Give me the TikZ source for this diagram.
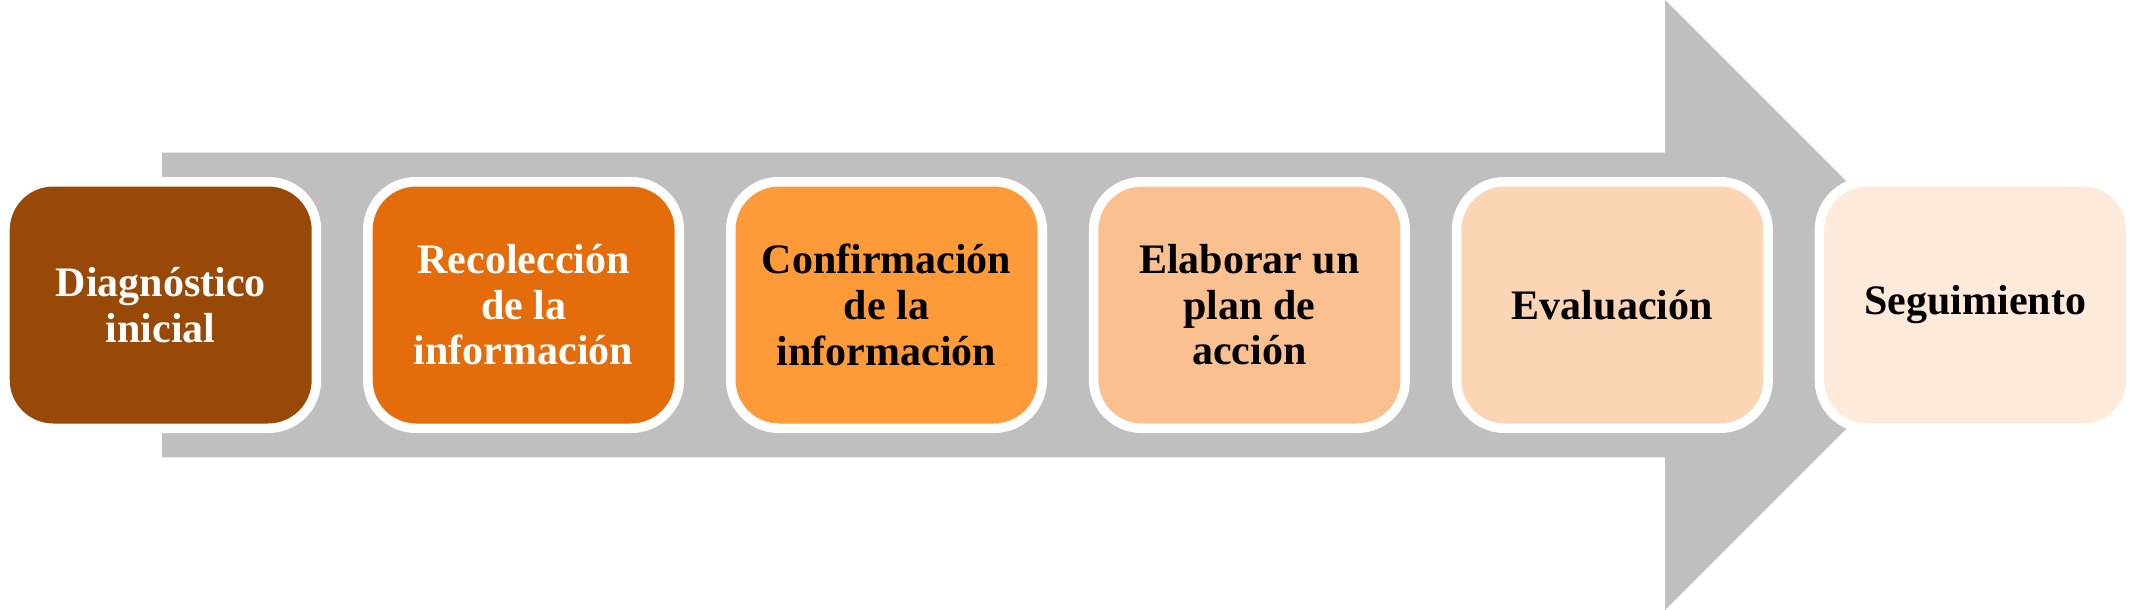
\documentclass[tikz,border=0pt]{standalone}
\usepackage{fontspec}
\setmainfont{Liberation Serif}
\definecolor{arrowgray}{HTML}{BFBFBF}
\definecolor{cA}{HTML}{984807}
\definecolor{cB}{HTML}{E46C0A}
\definecolor{cC}{HTML}{FF9A38}
\definecolor{cD}{HTML}{FAC090}
\definecolor{cE}{HTML}{FCD5B5}
\definecolor{cF}{HTML}{FDEADA}
\begin{document}
\begin{tikzpicture}[x=1pt,y=-1pt,
  stepbox/.style={draw=white, line width=9.5pt, rounded corners=48pt,
    minimum width=311.5pt, minimum height=246.5pt, inner sep=0pt,
    align=center, font=\fontsize{42}{45.6}\selectfont\bfseries},
  wtext/.style={text=white},
  btext/.style={text=black}]
\useasboundingbox (0,0) rectangle (2136,610);
\fill[arrowgray] (162,152.6) -- (1665,152.6) -- (1665,0) -- (1970,305)
  -- (1665,610) -- (1665,457.4) -- (162,457.4) -- cycle;
\node[stepbox, wtext, fill=cA] (b1) at (160.7,305) {Diagnóstico\\inicial};
\node[stepbox, wtext, fill=cB] (b2) at (523.6,305) {Recolección\\de la\\información};
\node[stepbox, btext, fill=cC] (b3) at (886.5,305) {Confirmación\\de la\\información};
\node[stepbox, btext, fill=cD] (b4) at (1249.4,305) {Elaborar un\\plan de\\acción};
\node[stepbox, btext, fill=cE] (b5) at (1612.3,305) {Evaluación};
\node[stepbox, btext, fill=cF] (b6) at (1975.2,305) {Seguimiento};
\end{tikzpicture}
\end{document}
